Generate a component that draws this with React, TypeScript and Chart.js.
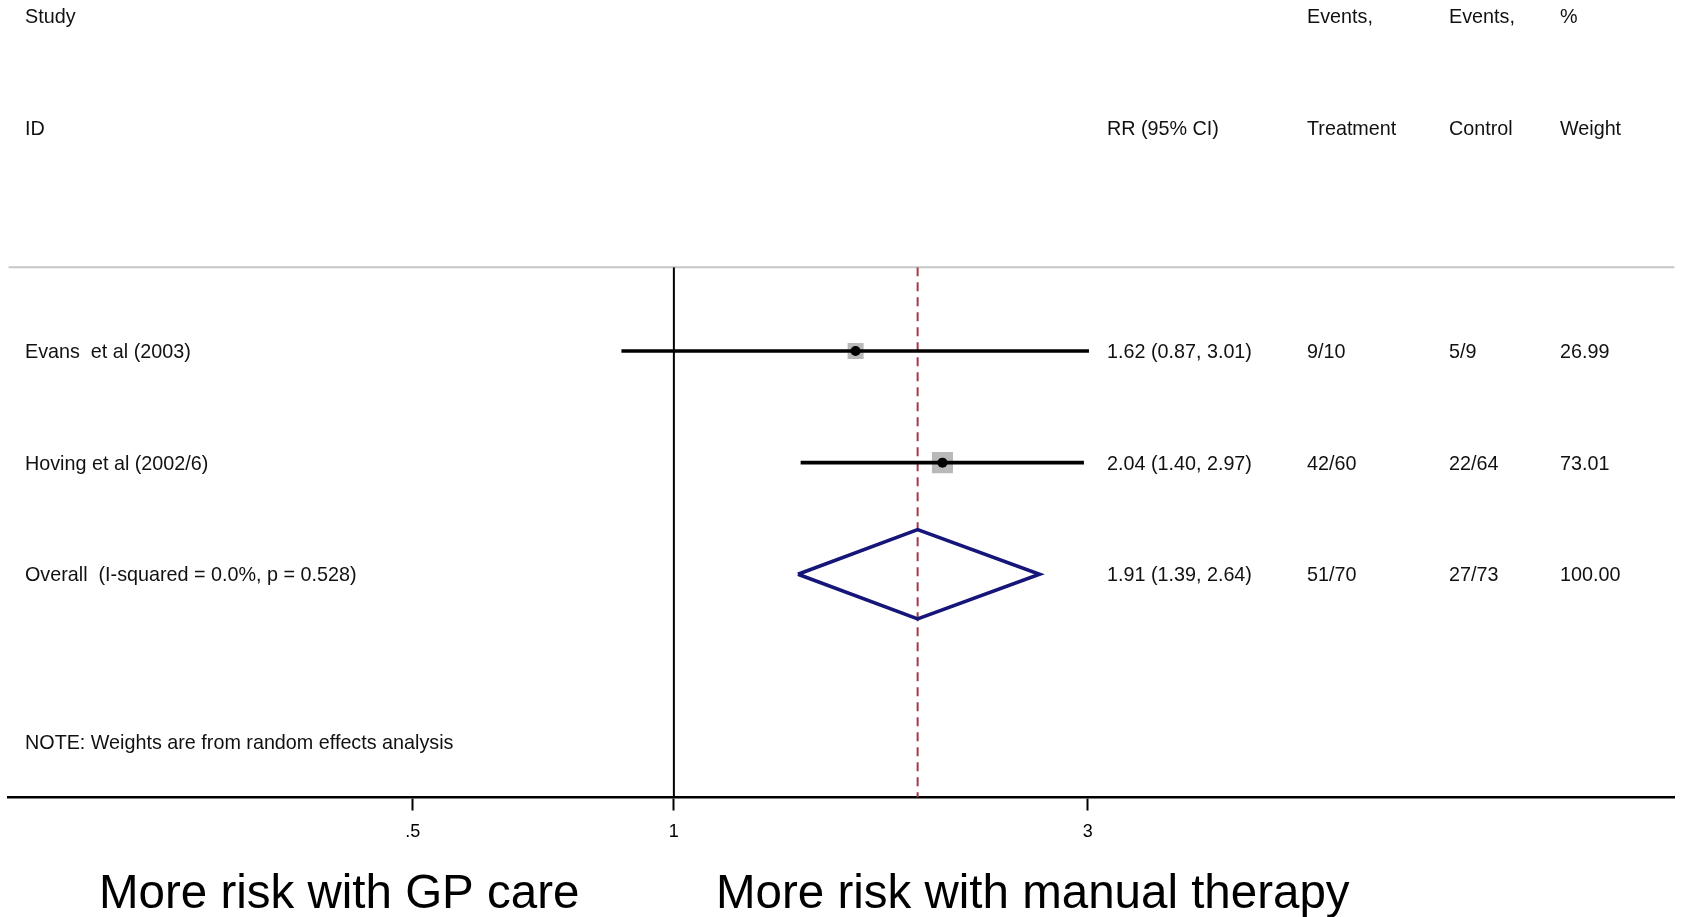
import React, { useEffect, useRef } from 'react';
import { Chart, registerables } from 'chart.js';

Chart.register(...registerables);

// ---- data ----
const STUDY_LABELS = ['Evans  et al (2003)', 'Hoving et al (2002/6)'];
const STUDY_RR = [1.62, 2.04];
const STUDY_LO = [0.87, 1.4];
const STUDY_HI = [3.01, 2.97];
const EVENTS_TREATMENT = ['9/10', '42/60'];
const EVENTS_CONTROL = ['5/9', '22/64'];
const STUDY_WEIGHT = [26.99, 73.01];

const OVERALL_LABEL = 'Overall  (I-squared = 0.0%, p = 0.528)';
const OVERALL_RR = 1.91;
const OVERALL_LO = 1.39;
const OVERALL_HI = 2.64;
const OVERALL_TREATMENT = '51/70';
const OVERALL_CONTROL = '27/73';
const OVERALL_WEIGHT = 100.0;

const NOTE_TEXT = 'NOTE: Weights are from random effects analysis';
const HEADER_TOP = ['Study', '', 'Events,', 'Events,', '%'];
const HEADER_BOTTOM = ['ID', 'RR (95% CI)', 'Treatment', 'Control', 'Weight'];
const X_TICKS = [0.5, 1, 3];
const X_TICK_LABELS = ['.5', '1', '3'];
const SIDE_LABELS = ['More risk with GP care', 'More risk with manual therapy'];

// ---- layout / style ----
const W = 1683;
const H = 917;
const FONT = '"Liberation Sans", Arial, Helvetica, sans-serif';
const COL_X = [25, 1107, 1307, 1449, 1560];
const TEXT_DY = 1.5;
const BOX_RADII = [11.3, 14.9];
const DIAMOND_HALF = 0.4;

const fmt = (v: number) => v.toFixed(2);

export default function App() {
  const ref = useRef<HTMLCanvasElement | null>(null);

  useEffect(() => {
    if (!ref.current) return;
    const studyRows = STUDY_LABELS.map((_, i) => i + 1);
    const overallRow = STUDY_LABELS.length + 1;
    const noteRow = overallRow + 1.5;
    const headerRows = [-2, -1];

    const ciDatasets = STUDY_LABELS.map((_, i) => ({
      data: [
        { x: STUDY_LO[i], y: studyRows[i] },
        { x: STUDY_HI[i], y: studyRows[i] },
      ],
      showLine: true,
      borderColor: '#000',
      borderWidth: 3.6,
      pointRadius: 0,
      order: 1,
    }));

    const textPlugin = {
      id: 'forestText',
      beforeDatasetsDraw(chart: any) {
        const { ctx, chartArea } = chart;
        ctx.save();
        ctx.strokeStyle = '#c6c6c6';
        ctx.lineWidth = 2;
        ctx.beginPath();
        ctx.moveTo(chartArea.left, chartArea.top);
        ctx.lineTo(chartArea.right, chartArea.top);
        ctx.stroke();
        ctx.restore();
      },
      afterDraw(chart: any) {
        const { ctx } = chart;
        const y = chart.scales.y;
        const py = (v: number) => y.getPixelForValue(v) + TEXT_DY;
        ctx.save();
        ctx.fillStyle = '#111';
        ctx.textAlign = 'left';
        ctx.textBaseline = 'middle';
        ctx.font = `19.75px ${FONT}`;
        HEADER_TOP.forEach((t, c) => t && ctx.fillText(t, COL_X[c], py(headerRows[0])));
        HEADER_BOTTOM.forEach((t, c) => t && ctx.fillText(t, COL_X[c], py(headerRows[1])));
        STUDY_LABELS.forEach((lab, i) => {
          const yy = py(studyRows[i]);
          ctx.fillText(lab, COL_X[0], yy);
          ctx.fillText(`${fmt(STUDY_RR[i])} (${fmt(STUDY_LO[i])}, ${fmt(STUDY_HI[i])})`, COL_X[1], yy);
          ctx.fillText(EVENTS_TREATMENT[i], COL_X[2], yy);
          ctx.fillText(EVENTS_CONTROL[i], COL_X[3], yy);
          ctx.fillText(fmt(STUDY_WEIGHT[i]), COL_X[4], yy);
        });
        const oy = py(overallRow);
        ctx.fillText(OVERALL_LABEL, COL_X[0], oy);
        ctx.fillText(`${fmt(OVERALL_RR)} (${fmt(OVERALL_LO)}, ${fmt(OVERALL_HI)})`, COL_X[1], oy);
        ctx.fillText(OVERALL_TREATMENT, COL_X[2], oy);
        ctx.fillText(OVERALL_CONTROL, COL_X[3], oy);
        ctx.fillText(fmt(OVERALL_WEIGHT), COL_X[4], oy);
        ctx.fillText(NOTE_TEXT, COL_X[0], py(noteRow));

        ctx.fillStyle = '#000';
        ctx.textBaseline = 'alphabetic';
        ctx.font = `47.5px ${FONT}`;
        ctx.fillText(SIDE_LABELS[0], 99, 908);
        ctx.fillText(SIDE_LABELS[1], 716, 908);
        ctx.restore();
      },
    };

    const chart = new Chart(ref.current, {
      type: 'scatter',
      data: {
        datasets: [
          // point estimates
          {
            data: STUDY_RR.map((v, i) => ({ x: v, y: studyRows[i] })),
            pointStyle: 'circle',
            pointRadius: 5,
            backgroundColor: '#000',
            borderColor: '#000',
            borderWidth: 0,
            order: 0,
          },
          ...ciDatasets,
          // weight boxes
          {
            data: STUDY_RR.map((v, i) => ({ x: v, y: studyRows[i] })),
            pointStyle: 'rect',
            pointRadius: BOX_RADII,
            backgroundColor: '#b9b9b9',
            borderWidth: 0,
            order: 2,
          },
          // overall diamond
          {
            data: [
              { x: OVERALL_LO, y: overallRow },
              { x: OVERALL_RR, y: overallRow - DIAMOND_HALF },
              { x: OVERALL_HI, y: overallRow },
              { x: OVERALL_RR, y: overallRow + DIAMOND_HALF },
              { x: OVERALL_LO, y: overallRow },
            ],
            showLine: true,
            borderColor: '#16167a',
            borderWidth: 3.6,
            pointRadius: 0,
            fill: false,
            order: 1,
          },
          // overall effect (dashed)
          {
            data: [
              { x: OVERALL_RR, y: 0.25 },
              { x: OVERALL_RR, y: 5 },
            ],
            showLine: true,
            borderColor: '#a53848',
            borderWidth: 2,
            borderDash: [9, 6],
            pointRadius: 0,
            order: 3,
          },
          // null line
          {
            data: [
              { x: 1, y: 0.25 },
              { x: 1, y: 5 },
            ],
            showLine: true,
            borderColor: '#000',
            borderWidth: 2,
            pointRadius: 0,
            order: 4,
          },
        ] as any,
      },
      options: {
        animation: false,
        responsive: false,
        maintainAspectRatio: false,
        layout: { autoPadding: false, padding: { left: 8.6, right: 8.6, top: 267.3, bottom: 0 } },
        plugins: { legend: { display: false }, tooltip: { enabled: false } },
        events: [],
        scales: {
          x: {
            type: 'logarithmic',
            min: 0.171,
            max: 14.24,
            position: 'bottom',
            afterBuildTicks: (s: any) => {
              s.ticks = X_TICKS.map((v) => ({ value: v }));
            },
            afterFit: (s: any) => {
              s.height = H - 797.5;
            },
            grid: {
              display: true,
              drawOnChartArea: false,
              drawTicks: true,
              tickLength: 13,
              tickWidth: 2,
              tickColor: '#000',
              color: '#000',
            },
            border: { display: true, color: '#000', width: 2.6 },
            ticks: {
              autoSkip: false,
              maxRotation: 0,
              padding: 11,
              color: '#000',
              font: { size: 18, family: FONT },
              callback: (v: any) => {
                const i = X_TICKS.indexOf(Number(v));
                return i >= 0 ? X_TICK_LABELS[i] : '';
              },
            },
          },
          y: {
            type: 'linear',
            min: 0.25,
            max: 5,
            reverse: true,
            display: false,
          },
        },
      } as any,
      plugins: [textPlugin],
    });
    return () => chart.destroy();
  }, []);

  return (
    <div style={{ position: 'fixed', left: 0, top: 0, width: W, height: H, background: '#fff' }}>
      <canvas ref={ref} width={W} height={H} style={{ display: 'block' }} />
    </div>
  );
}
